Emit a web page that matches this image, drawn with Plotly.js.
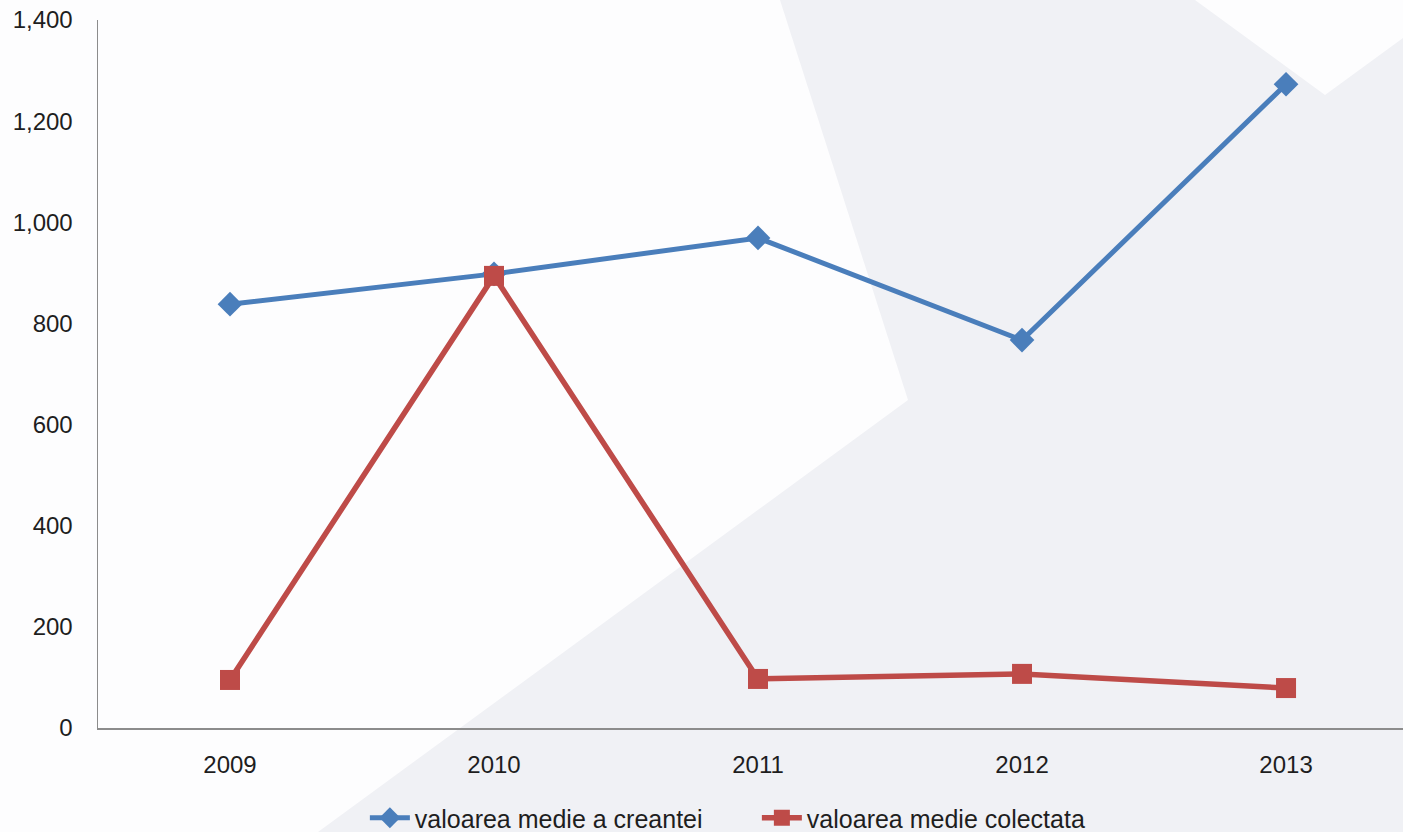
<!DOCTYPE html>
<html>
<head>
<meta charset="utf-8">
<script src="https://cdn.plot.ly/plotly-3.0.1.min.js"></script>
<style>
html,body{margin:0;padding:0;width:1403px;height:832px;overflow:hidden;background:#fdfdfe;}
#bg{position:absolute;left:0;top:0;width:1403px;height:832px;}
#chart{position:absolute;left:0;top:0;width:1403px;height:832px;}
</style>
</head>
<body>
<svg id="bg" width="1403" height="832" xmlns="http://www.w3.org/2000/svg">
  <rect x="0" y="0" width="1403" height="832" fill="#fdfdfe"/>
  <polygon points="780,0 1195,0 1325,95 1403,38 1403,832 318,832 908,400" fill="#f0f1f5"/>
</svg>
<div id="chart"></div>
<script>
const years = ["2009", "2010", "2011", "2012", "2013"];
const creanta = [838, 898, 969, 767, 1273];
const colectata = [95, 894, 97, 107, 79];
const seriesNames = ["valoarea medie a creantei", "valoarea medie colectata"];

const traces = [
  {
    x: years, y: creanta, name: seriesNames[0], type: "scatter", mode: "lines+markers",
    line: {color: "#4a7ebb", width: 5},
    marker: {symbol: "diamond", size: 19, color: "#4a7ebb"}
  },
  {
    x: years, y: colectata, name: seriesNames[1], type: "scatter", mode: "lines+markers",
    line: {color: "#be4b48", width: 5.5},
    marker: {symbol: "square", size: 20, color: "#be4b48"}
  }
];

const fontFam = "Liberation Sans, Arial, sans-serif";
const layout = {
  width: 1403, height: 832,
  margin: {l: 98, r: 0, t: 20, b: 104},
  paper_bgcolor: "rgba(0,0,0,0)",
  plot_bgcolor: "rgba(0,0,0,0)",
  font: {family: fontFam, size: 24, color: "#1e1e1e"},
  showlegend: true,
  legend: {
    orientation: "h", x: 0.2045, xanchor: "left",
    yref: "container", y: 0.0168, yanchor: "middle",
    font: {size: 25, color: "#1e1e1e", family: fontFam},
    bgcolor: "rgba(0,0,0,0)", itemwidth: 40, entrywidth: 337, entrywidthmode: "pixels"
  },
  xaxis: {
    type: "category", range: [-0.5, 4.443],
    showline: true, linecolor: "#8c8c8c", linewidth: 1.5,
    showgrid: false, zeroline: false,
    ticks: "outside", ticklen: 15, tickcolor: "rgba(0,0,0,0)",
    tickfont: {size: 24, color: "#1e1e1e", family: fontFam}
  },
  yaxis: {
    range: [0, 1400], tickvals: [0, 200, 400, 600, 800, 1000, 1200, 1400],
    tickformat: ",d",
    showline: true, linecolor: "#8c8c8c", linewidth: 1.5,
    showgrid: false, zeroline: false,
    ticks: "outside", ticklen: 19, tickcolor: "rgba(0,0,0,0)",
    tickfont: {size: 24, color: "#1e1e1e", family: fontFam}
  }
};

Plotly.newPlot("chart", traces, layout, {displayModeBar: false, staticPlot: true});
</script>
</body>
</html>
